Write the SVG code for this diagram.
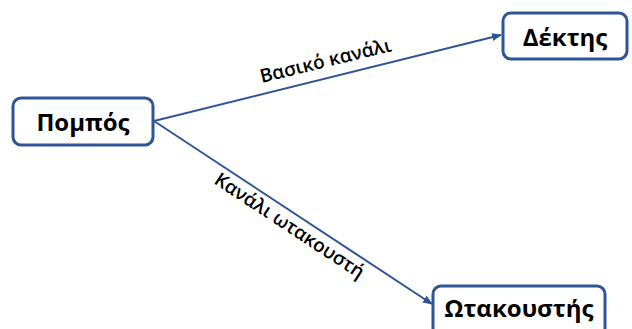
<svg xmlns="http://www.w3.org/2000/svg" width="632" height="329" viewBox="0 0 632 329">
  <style>
    .node rect { fill: #ffffff; stroke: #2f5597; stroke-width: 3; }
    .node text { font-family: "Open Sans", "Noto Sans", "DejaVu Sans", sans-serif; font-weight: bold; font-size: 24px; fill: #000000; text-anchor: middle; dominant-baseline: central; }
    .edge { stroke: #2f5597; stroke-width: 2; fill: none; marker-end: url(#arrow); }
    .label { font-family: "Open Sans", "Noto Sans", "DejaVu Sans", sans-serif; font-weight: 600; font-size: 19px; fill: #000000; text-anchor: middle; }
  </style>
  <defs>
    <marker id="arrow" viewBox="0 0 10 10" refX="9" refY="5" markerWidth="5" markerHeight="5" orient="auto" markerUnits="strokeWidth">
      <path d="M0,1 L10,5 L0,9 z" fill="#2f5597"/>
    </marker>
  </defs>
  <rect width="632" height="329" fill="#ffffff"/>

  <g id="connectors">
    <line class="edge" x1="154" y1="121" x2="501" y2="35"/>
    <line class="edge" x1="154" y1="121" x2="432" y2="304"/>
    <text class="label" transform="translate(327,67) rotate(-13.8)">Βασικό κανάλι</text>
    <text class="label" transform="translate(286,231) rotate(33.4)">Κανάλι ωτακουστή</text>
  </g>

  <g id="pompos" class="node">
    <rect x="13" y="98" width="140" height="47" rx="8"/>
    <text x="83" y="121">Πομπός</text>
  </g>

  <g id="dektis" class="node">
    <rect x="503" y="13" width="124" height="46" rx="8"/>
    <text x="565" y="36">Δέκτης</text>
  </g>

  <g id="otakoustis" class="node">
    <rect x="433" y="286" width="172" height="50" rx="8"/>
    <text x="519" y="307">Ωτακουστής</text>
  </g>
</svg>
